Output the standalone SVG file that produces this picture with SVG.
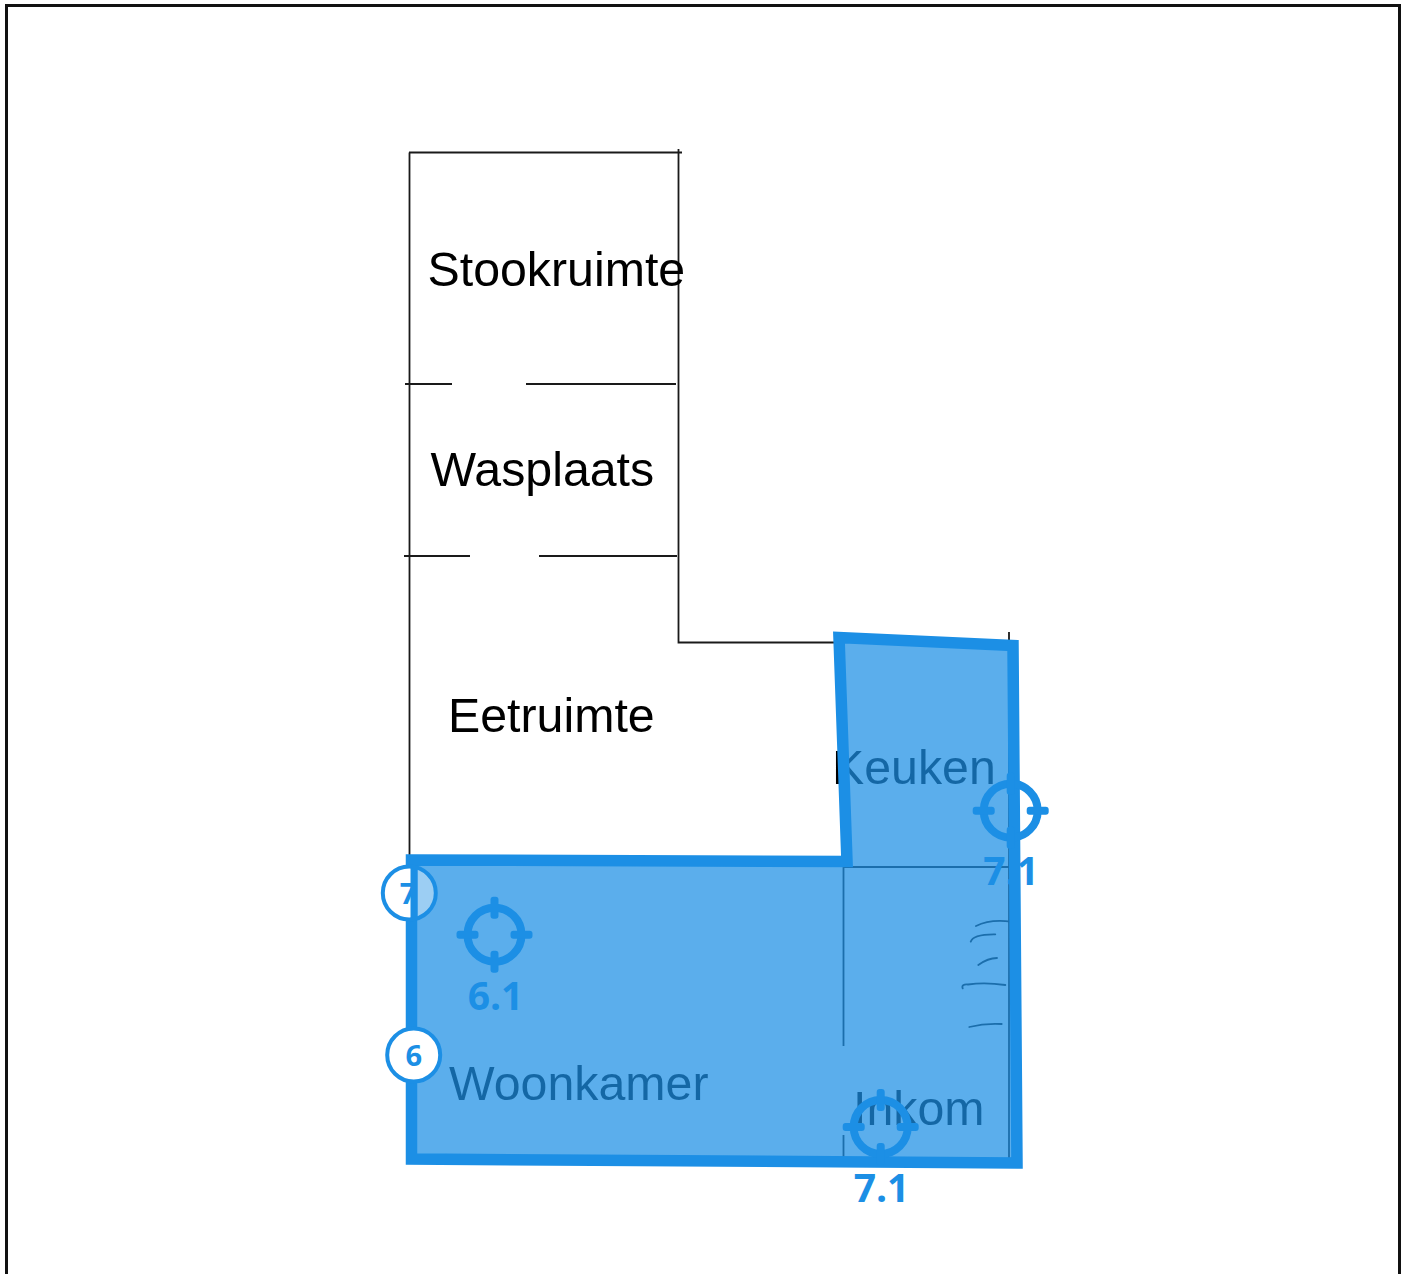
<svg xmlns="http://www.w3.org/2000/svg" width="1405" height="1274" viewBox="0 0 1405 1274">
<style>
.room{font-family:"Liberation Sans",Arial,sans-serif;font-size:48.3px;fill:#000}
.wall{fill:none;stroke:#1a1a1a;stroke-width:1.8}
.mark{fill:none;stroke:#1a1a1a;stroke-width:1.8;stroke-linecap:round}
.lab{font-family:"Open Sans",sans-serif;font-weight:700;font-size:39px;fill:#1c8fe5;text-anchor:middle}
.ring{fill:none;stroke:#1c8fe5;stroke-width:8}
.tick{fill:#1c8fe5}
.badge{fill:none;stroke:#1c8fe5;stroke-width:4}
.num{font-family:"Open Sans",sans-serif;font-weight:700;font-size:29px;fill:#1c8fe5;text-anchor:middle}
</style>
<defs>
<g id="cross">
<circle class="ring" r="27"/>
<rect class="tick" x="-38" y="-4" width="22" height="8" rx="3"/>
<rect class="tick" x="16" y="-4" width="22" height="8" rx="3"/>
<rect class="tick" x="-4" y="-38" width="8" height="22" rx="3"/>
<rect class="tick" x="-4" y="16" width="8" height="22" rx="3"/>
</g>
</defs>
<rect width="1405" height="1274" fill="#fff"/>
<path id="frame" d="M6.500 1274V5.500H1399.500V1274" fill="none" stroke="#111" stroke-width="3"/>
<g id="plan">
<path class="wall" d="M409.500 152.500V1160M409 152.500H682M678.500 149V642.500H845M1009 632V1160M843.500 643V1046M843.500 1135V1158M843 867H1009"/>
<path class="wall" d="M405 384H452M526 384H676M404 556H470M539 556H677"/>
<path class="mark" d="M976 926Q990 919 1011 921.700M970.700 941.700Q973 934 995.300 934.300M978.300 965Q988 958 997 958M962.700 988.300Q961 984 968 984.500Q985 982 1005.300 985M969.300 1027Q985 1023 1001.700 1024"/>
</g>
<g id="rooms">
<text class="room" x="427.500" y="285.500">Stookruimte</text>
<text class="room" x="430.500" y="485.500">Wasplaats</text>
<text class="room" x="448" y="732">Eetruimte</text>
<text class="room" x="832" y="784">Keuken</text>
<text class="room" x="449" y="1099.500">Woonkamer</text>
<text class="room" x="853" y="1125">Inkom</text>
</g>
<g id="zone">
<path d="M411.500 860L847 861.500L839 637.500L1013 645.500L1017 1163L411.500 1159Z" fill="#1c8fe5" fill-opacity=".72"/>
<path d="M411.500 860L847 861.500L839 637.500L1013 645.500L1017 1163L411.500 1159Z" fill="none" stroke="#1c8fe5" stroke-width="11.500" stroke-miterlimit="8"/>
</g>
<g id="target-6-1">
<use href="#cross" x="494.500" y="934.700"/>
<text class="lab" x="495.500" y="1010">6.1</text>
</g>
<g id="target-7-1a">
<use href="#cross" x="1010.700" y="810.700"/>
<text class="lab" x="1011" y="885">7.1</text>
</g>
<g id="target-7-1b">
<use href="#cross" x="880.700" y="1127"/>
<text class="lab" x="881.500" y="1201.700">7.1</text>
</g>
<g id="badge-7">
<path d="M410.700 866.500A26.500 26.500 0 0 0 410.700 919.500Z" fill="#fff"/>
<path d="M410.700 866.500A26.500 26.500 0 0 1 410.700 919.500Z" fill="#fff" fill-opacity=".4"/>
<text class="num" x="408" y="904">7</text>
<rect x="410.700" y="867" width="7" height="52" fill="#1c8fe5"/>
<circle class="badge" cx="409.300" cy="893" r="26.500"/>
</g>
<g id="badge-6">
<circle class="badge" cx="413.700" cy="1055" r="26.500" style="fill:#fff"/>
<text class="num" x="413.700" y="1066">6</text>
</g>
</svg>
